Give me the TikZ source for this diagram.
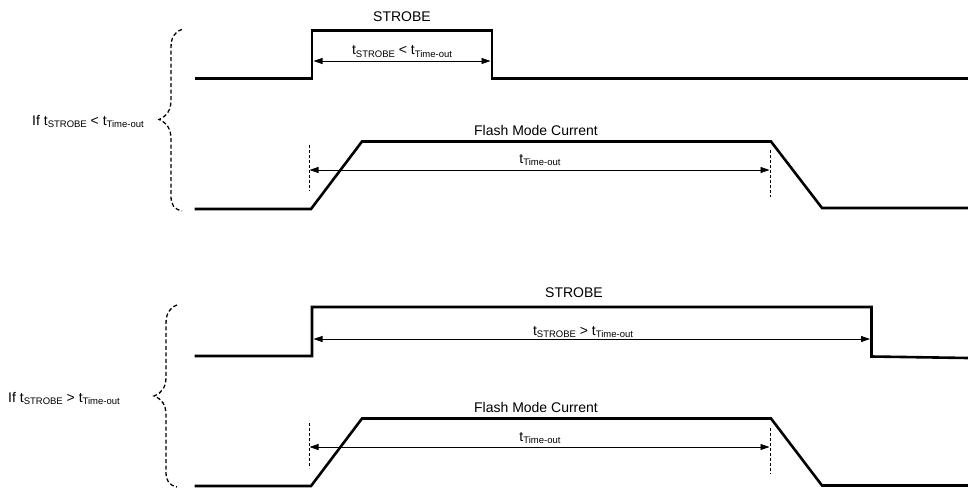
\documentclass[tikz,border=0pt]{standalone}
\usepackage{fontspec}
\setmainfont{Liberation Sans}
\usetikzlibrary{arrows.meta}
\newcommand{\sbs}[1]{\raisebox{-0.35ex}{\fontsize{9.5}{10}\selectfont #1}}
\begin{document}
\begin{tikzpicture}[x=1pt,y=-1pt,
  sig/.style={line width=2.6pt,line join=miter,line cap=rect},
  dim/.style={line width=0.8pt,{Triangle[length=9pt,width=6pt]}-{Triangle[length=9pt,width=6pt]}},
  tick/.style={line width=0.8pt,dash pattern=on 3pt off 2pt},
  brace/.style={line width=1.3pt,dash pattern=on 4pt off 2.5pt},
  lbl/.style={font=\fontsize{14}{16}\selectfont,inner sep=0pt,anchor=base}]
\useasboundingbox (0,0) rectangle (968,487);
% ---------- top panel ----------
\draw[sig] (196,78.5) -- (312,78.5) -- (312,30.5) -- (492,30.5) -- (492,78.5) -- (968,78.5);
\draw[sig] (196,209) -- (311,209) -- (362,141.5) -- (771,141.5) -- (822,208) -- (968,208);
\coordinate (s1a) at (313.5,61);
\coordinate (s1b) at (490.5,61);
\draw[dim] (s1a) -- (s1b);
\coordinate (d1t) at (309,145);
\coordinate (d1b) at (309,191);
\coordinate (d2t) at (770,150);
\coordinate (d2b) at (770,197);
\draw[tick] (d1t) -- (d1b);
\draw[tick] (d2t) -- (d2b);
\coordinate (a1a) at (309.5,170);
\coordinate (a1b) at (769.5,170);
\draw[dim] (a1a) -- (a1b);
\node[lbl] (strobe1) at (402,22) {STROBE};
\node[lbl] (ts1) at (402,55) {t\sbs{STROBE} < t\sbs{Time-out}};
\node[lbl] (fmc1) at (536,135) {Flash Mode Current};
\node[lbl] (to1) at (540,163) {t\sbs{Time-out}};
\draw[brace] (182,29.5) .. controls (174,32) and (171,38) .. (171,48) -- (171,100)
  .. controls (171,110) and (167,116) .. (159,119.5)
  .. controls (167,123) and (171,129) .. (171,139) -- (171,196)
  .. controls (171,205) and (174,209) .. (182,211);
\node[lbl,anchor=base west] (if1) at (32,125) {If t\sbs{STROBE} < t\sbs{Time-out}};
% ---------- bottom panel ----------
\draw[sig] (196,356) -- (312,356) -- (312,307) -- (871.5,307) -- (871.5,356.5) -- (968,358);
\draw[sig] (196,486) -- (311,486) -- (362,418.5) -- (771,418.5) -- (822,485.5) -- (968,485.5);
\coordinate (s2a) at (313.5,339);
\coordinate (s2b) at (870,339);
\draw[dim] (s2a) -- (s2b);
\coordinate (d3t) at (309,423);
\coordinate (d3b) at (309,468);
\coordinate (d4t) at (770,428);
\coordinate (d4b) at (770,474);
\draw[tick] (d3t) -- (d3b);
\draw[tick] (d4t) -- (d4b);
\coordinate (a2a) at (309.5,447);
\coordinate (a2b) at (769.5,447);
\draw[dim] (a2a) -- (a2b);
\node[lbl] (strobe2) at (574,297) {STROBE};
\node[lbl] (ts2) at (583,335) {t\sbs{STROBE} > t\sbs{Time-out}};
\node[lbl] (fmc2) at (536,412) {Flash Mode Current};
\node[lbl] (to2) at (540,441) {t\sbs{Time-out}};
\draw[brace] (177,305) .. controls (169,308) and (166,314) .. (166,324) -- (166,377)
  .. controls (166,387) and (162,393) .. (154,396)
  .. controls (162,399) and (166,405) .. (166,415) -- (166,472)
  .. controls (166,481) and (169,485) .. (177,487);
\node[lbl,anchor=base west] (if2) at (8,402) {If t\sbs{STROBE} > t\sbs{Time-out}};
\end{tikzpicture}
\end{document}
